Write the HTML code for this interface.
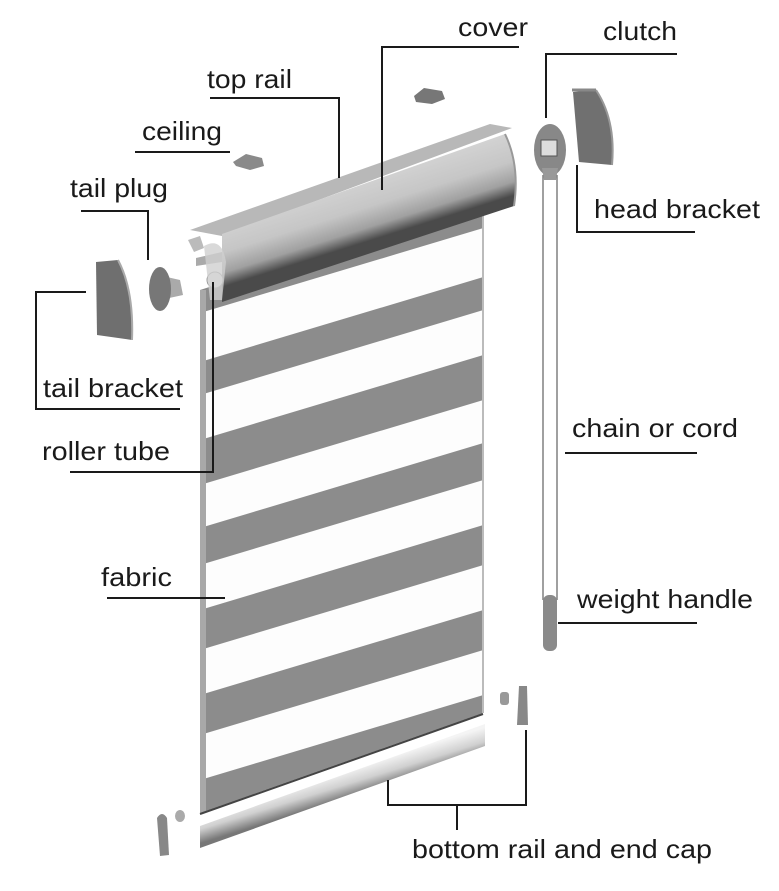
<!DOCTYPE html>
<html><head><meta charset="utf-8"><style>
html,body{margin:0;padding:0;background:#fff;}
svg{display:block}
text{font-family:"Liberation Sans",sans-serif;font-size:26px;fill:#1a1a1a}
</style></head><body>
<svg width="779" height="891" viewBox="0 0 779 891" xmlns="http://www.w3.org/2000/svg">
<defs>
<linearGradient id="cov" gradientUnits="userSpaceOnUse" x1="350" y1="170" x2="372" y2="240">
<stop offset="0" stop-color="#d8d8d8"/><stop offset="0.55" stop-color="#c6c6c6"/><stop offset="0.82" stop-color="#a0a0a0"/><stop offset="1" stop-color="#4a4a4a"/>
</linearGradient>
<linearGradient id="bot" gradientUnits="userSpaceOnUse" x1="340" y1="772" x2="348" y2="798">
<stop offset="0" stop-color="#f4f4f4"/><stop offset="0.5" stop-color="#d0d0d0"/><stop offset="1" stop-color="#777"/>
</linearGradient>
<clipPath id="fab"><polygon points="200,290 483,200 483,713 200,813"/></clipPath>
</defs>

<!-- fabric -->
<polygon points="200,290 483,200 483,713 200,813" fill="#8c8c8c"/>
<g clip-path="url(#fab)" fill="#fdfdfd">
<polygon points="190,316 500,223 500,272 190,365"/>
<polygon points="190,398 500,305 500,350 190,443"/>
<polygon points="190,488 500,395 500,438 190,531"/>
<polygon points="190,568 500,475 500,520 190,613"/>
<polygon points="190,653 500,560 500,605 190,698"/>
<polygon points="190,738 500,645 500,690 190,783"/>
</g>
<rect x="200" y="290" width="6" height="523" fill="#a8a8a8"/>
<line x1="483" y1="200" x2="483" y2="713" stroke="#bbb" stroke-width="2"/>
<line x1="200" y1="814" x2="483" y2="714" stroke="#444" stroke-width="2"/>

<!-- bottom rail -->
<polygon points="200,826 485,724 485,746 200,848" fill="url(#bot)"/>

<!-- top rail -->
<polygon points="190,230 490,124 512,128 222,236" fill="#b8b8b8"/>
<!-- cover -->
<path d="M222,234 L505,134 Q520,165 514,206 L222,302 Z" fill="url(#cov)"/>
<path d="M505,134 Q520,165 514,206" fill="none" stroke="#999" stroke-width="2"/>
<!-- left end details -->
<path d="M188,240 L200,236 L204,248 L194,252 Z" fill="#bbb"/>
<path d="M196,258 L222,252 L222,262 L196,266 Z" fill="#aaa"/>
<circle cx="215" cy="280" r="8" fill="#eee" stroke="#999"/>
<path d="M204,246 Q222,236 226,262 L222,300 L210,300 Z" fill="#cfcfcf" opacity="0.8"/>

<!-- ceiling clips -->
<path d="M233,162 L246,154 L262,158 L264,166 L250,170 L236,166 Z" fill="#8a8a8a"/>
<path d="M414,96 L424,88 L442,91 L445,99 L432,104 L416,102 Z" fill="#777"/>

<!-- tail bracket -->
<path d="M96,262 L118,260 Q134,290 132,340 L97,335 Z" fill="#6f6f6f"/>
<path d="M118,260 Q134,290 132,340" fill="none" stroke="#aaa" stroke-width="2"/>
<!-- tail plug -->
<path d="M158,275 L180,280 L183,295 L160,300 Z" fill="#aaa"/>
<ellipse cx="160" cy="289" rx="11" ry="22" fill="#777"/>

<!-- clutch -->
<ellipse cx="550" cy="150" rx="16" ry="26" fill="#888"/>
<rect x="541" y="140" width="16" height="16" fill="#ddd" stroke="#555"/>
<path d="M542,168 L558,168 L556,180 L544,180 Z" fill="#999"/>
<!-- head bracket -->
<path d="M573,92 L596,90 Q616,120 612,165 L579,162 Z" fill="#707070"/>
<path d="M596,90 Q616,120 612,165" fill="none" stroke="#999" stroke-width="2"/>
<path d="M572,90 L596,90" stroke="#888" stroke-width="3"/>

<!-- cords -->
<line x1="543" y1="175" x2="543" y2="600" stroke="#888" stroke-width="1.6"/>
<line x1="557" y1="175" x2="557" y2="600" stroke="#888" stroke-width="1.6"/>
<rect x="543" y="595" width="14" height="56" rx="6" fill="#8a8a8a"/>

<!-- end caps -->
<rect x="500" y="692" width="9" height="13" rx="3" fill="#999"/>
<path d="M519,686 L527,686 L528,725 L517,725 Z" fill="#888"/>
<path d="M157,818 Q162,810 167,818 L169,855 L160,856 Z" fill="#888"/>
<ellipse cx="180" cy="816" rx="5" ry="6" fill="#aaa"/>

<!-- leader lines -->
<g stroke="#1a1a1a" stroke-width="2" fill="none">
<polyline points="519,47 382,47 382,190"/>
<polyline points="677,54 546,54 546,118"/>
<polyline points="210,98 339,98 339,178"/>
<line x1="135" y1="152" x2="230" y2="152"/>
<polyline points="81,211 148,211 148,260"/>
<polyline points="86,292 36,292 36,409 180,409"/>
<polyline points="70,472 213,472 213,282"/>
<polyline points="577,165 577,232 695,232"/>
<line x1="565" y1="453" x2="697" y2="453"/>
<line x1="558" y1="623" x2="697" y2="623"/>
<line x1="107" y1="598" x2="225" y2="598"/>
<polyline points="388,780 388,805 526,805 526,730"/>
<line x1="457" y1="805" x2="457" y2="830"/>
</g>

<!-- labels -->
<text x="458" y="36" textLength="70" lengthAdjust="spacingAndGlyphs">cover</text>
<text x="603" y="40" textLength="74" lengthAdjust="spacingAndGlyphs">clutch</text>
<text x="207" y="88" textLength="85" lengthAdjust="spacingAndGlyphs">top rail</text>
<text x="142" y="140" textLength="80" lengthAdjust="spacingAndGlyphs">ceiling</text>
<text x="70" y="197" textLength="98" lengthAdjust="spacingAndGlyphs">tail plug</text>
<text x="594" y="218" textLength="166" lengthAdjust="spacingAndGlyphs">head bracket</text>
<text x="43" y="397" textLength="140" lengthAdjust="spacingAndGlyphs">tail bracket</text>
<text x="572" y="437" textLength="166" lengthAdjust="spacingAndGlyphs">chain or cord</text>
<text x="42" y="460" textLength="128" lengthAdjust="spacingAndGlyphs">roller tube</text>
<text x="101" y="586" textLength="71" lengthAdjust="spacingAndGlyphs">fabric</text>
<text x="577" y="608" textLength="176" lengthAdjust="spacingAndGlyphs">weight handle</text>
<text x="412" y="858" textLength="300" lengthAdjust="spacingAndGlyphs">bottom rail and end cap</text>
</svg>
</body></html>
